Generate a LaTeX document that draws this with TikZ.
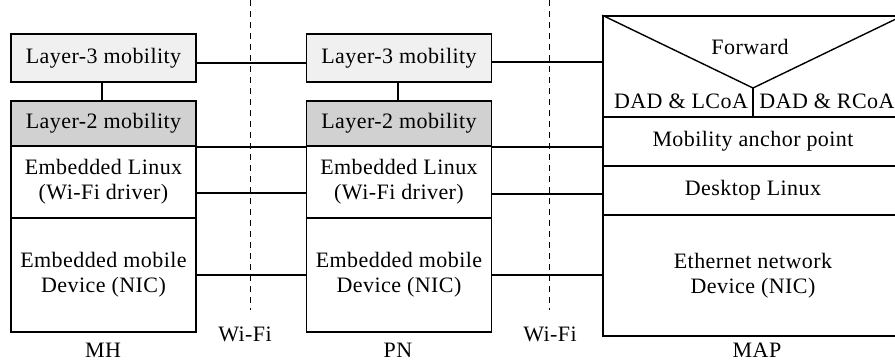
\documentclass[tikz,border=0pt]{standalone}
\usepackage{fontspec}
\setmainfont{Liberation Serif}[LetterSpace=2]
\begin{document}
\begin{tikzpicture}[x=1pt,y=-1pt,
  every node/.style={font=\fontsize{22}{25}\selectfont},
  box/.style={draw,line width=1.6pt,inner sep=0pt,minimum width=185pt,align=center},
  lthree/.style={box,fill=black!6,minimum height=48pt},
  ltwo/.style={box,fill=black!18,minimum height=45pt},
  lnx/.style={box,minimum height=72pt},
  nic/.style={box,minimum height=114pt},
  mapbox/.style={draw,line width=1.6pt,inner sep=0pt,minimum width=300pt,align=center},
  conn/.style={line width=1.4pt},
  air/.style={line width=0.9pt,dash pattern=on 6pt off 5pt},
  lbl/.style={inner sep=0pt}]
\useasboundingbox (0,0) rectangle (895,362);

% MH
\node[lthree] (mhL3) at (103.5,58) {Layer-3 mobility};
\node[ltwo] (mhL2) at (103.5,123.5) {Layer-2 mobility};
\node[lnx] (mhLx) at (103.5,182) {Embedded Linux\\(Wi-Fi driver)};
\node[nic] (mhNic) at (103.5,275) {Embedded mobile\\Device (NIC)};
\node[lbl] (mhLbl) at (103,350) {MH};

% PN
\node[lthree] (pnL3) at (399,58) {Layer-3 mobility};
\node[ltwo] (pnL2) at (399,123.5) {Layer-2 mobility};
\node[lnx] (pnLx) at (399,182) {Embedded Linux\\(Wi-Fi driver)};
\node[nic] (pnNic) at (399,275) {Embedded mobile\\Device (NIC)};
\node[lbl] (pnLbl) at (398,350) {PN};

% MAP
\node[mapbox,minimum height=101pt] (mapTop) at (753,66.5) {};
\node[mapbox,minimum height=49pt] (mapAnc) at (753,141.5) {Mobility anchor point};
\node[mapbox,minimum height=49pt] (mapDesk) at (753,190.5) {Desktop Linux};
\node[mapbox,minimum height=121pt] (mapEth) at (753,275.5) {Ethernet network\\Device (NIC)};
\node[lbl] (mapLbl) at (757,350) {MAP};
\coordinate (apex) at (753,88);
\draw[line width=1.4pt] (mapTop.north west) -- (apex) -- (mapTop.north east);
\draw[line width=1.4pt] (apex) -- (apex |- mapTop.south);
\node[lbl] (fwd) at (750,47) {Forward};
\node[lbl] (dadL) at (681,101) {DAD \& LCoA};
\node[lbl] (dadR) at (827,101) {DAD \& RCoA};

% vertical links L3-L2
\draw[conn] (mhL3.south -| 102,0) -- (mhL2.north -| 102,0);
\draw[conn] (pnL3.south -| 398,0) -- (pnL2.north -| 398,0);

% wireless separators
\coordinate (w1t) at (250,0); \coordinate (w1b) at (250,310);
\coordinate (w2t) at (549,0); \coordinate (w2b) at (549,310);
\draw[air] (w1t) -- (w1b);
\draw[air] (w2t) -- (w2b);
\node[lbl] (wifi1) at (245,334) {Wi-Fi};
\node[lbl] (wifi2) at (550,334) {Wi-Fi};

% MH - PN links
\draw[conn] (mhL3.east |- 0,63) -- (pnL3.west |- 0,63);
\draw[conn] (mhL2.south east) -- (pnL2.south west);
\draw[conn] (mhLx.east |- 0,193) -- (pnLx.west |- 0,193);
\draw[conn] (mhNic.east |- 0,275) -- (pnNic.west |- 0,275);

% PN - MAP links
\draw[conn] (pnL3.east |- 0,62) -- (mapTop.west |- 0,62);
\draw[conn] (pnL2.south east) -- (mapAnc.west |- pnL2.south east);
\draw[conn] (pnLx.east |- 0,194) -- (mapDesk.west |- 0,194);
\draw[conn] (pnNic.east |- 0,275) -- (mapEth.west |- 0,275);
\end{tikzpicture}
\end{document}
